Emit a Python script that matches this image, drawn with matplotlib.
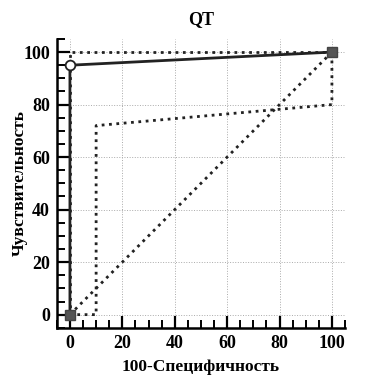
import matplotlib.pyplot as plt
from matplotlib.ticker import MultipleLocator

# ROC curve
roc_x = [0, 0, 100]
roc_y = [0, 95, 100]

# confidence bounds
upper_x = [0, 0, 100]
upper_y = [0, 100, 100]
lower_x = [0, 10, 10, 100, 100]
lower_y = [0, 0, 72, 80, 100]

# chance line
diag_x = [0, 100]
diag_y = [0, 100]

plt.rcParams['font.family'] = 'Liberation Serif'
plt.rcParams['font.weight'] = 'bold'

fig = plt.figure(figsize=(3.69, 3.82), dpi=100)
ax = fig.add_axes([0.154, 0.142, 0.781, 0.756])

ax.plot(diag_x, diag_y, ':', color='#222222', lw=2)
ax.plot(upper_x, upper_y, ':', color='#222222', lw=2)
ax.plot(lower_x, lower_y, ':', color='#222222', lw=2)
ax.plot(roc_x, roc_y, '-', color='#222222', lw=2)

ax.plot([roc_x[0], roc_x[-1]], [roc_y[0], roc_y[-1]], 's', color='#555555',
        markersize=7, markeredgecolor='#444444')
ax.plot(roc_x[1], roc_y[1], 'o', color='white', markersize=7,
        markeredgecolor='#222222', markeredgewidth=1.3)

ax.set_xlim(-5, 105)
ax.set_ylim(-5, 105)
ax.xaxis.set_major_locator(MultipleLocator(20))
ax.yaxis.set_major_locator(MultipleLocator(20))
ax.xaxis.set_minor_locator(MultipleLocator(5))
ax.yaxis.set_minor_locator(MultipleLocator(5))
ax.tick_params(which='major', direction='in', length=9, width=1.6,
               labelsize=13, pad=5)
ax.tick_params(which='minor', direction='in', length=5.5, width=1.4)

ax.grid(True, which='major', color='#aaaaaa', linestyle=':', lw=0.7)
for s in ['top', 'right']:
    ax.spines[s].set_visible(False)
for s in ['left', 'bottom']:
    ax.spines[s].set_linewidth(1.8)

ax.set_title('QT', fontsize=13, fontweight='bold', pad=11)
ax.set_xlabel('100-Специфичность', fontsize=12.5, fontweight='bold', labelpad=5)
ax.set_ylabel('Чувствительность', fontsize=12.5, fontweight='bold')
ax.yaxis.set_label_coords(-0.1, 0.5)

fig.savefig('out.png', dpi=100)
